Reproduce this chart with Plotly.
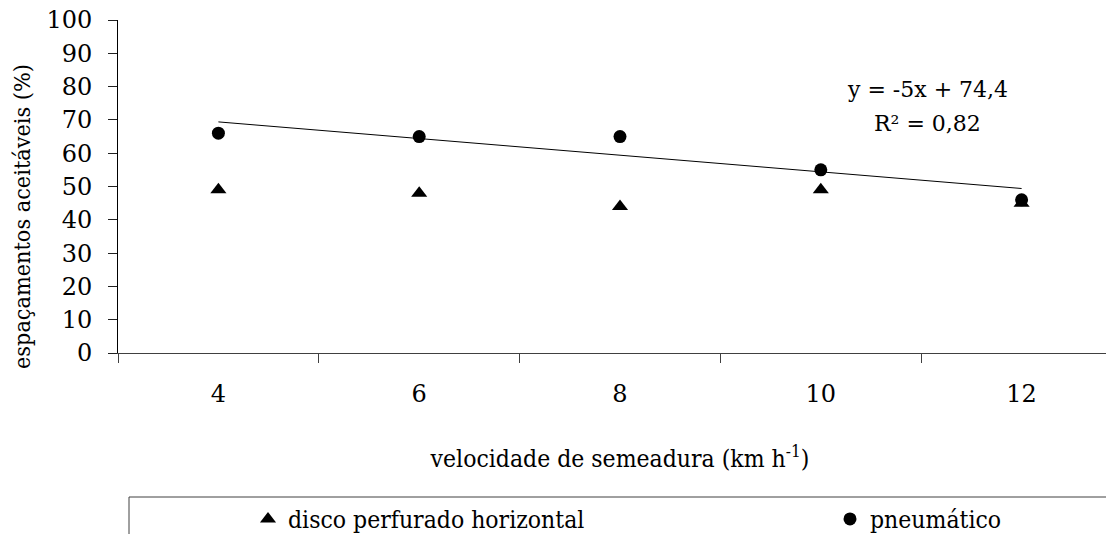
import numpy as np
import plotly.graph_objects as go

categorias = ["4", "6", "8", "10", "12"]
disco_perfurado = [49, 48, 44, 49, 45]
pneumatico = [66, 65, 65, 55, 46]
y_ticks = list(range(0, 101, 10))

SERIF = "DejaVu Serif"
COND = "DejaVu Serif Condensed"

# linear trend for pneumático (x = 1..5, as in the spreadsheet)
xi = np.arange(1, len(pneumatico) + 1)
a, b = np.polyfit(xi, pneumatico, 1)
trend = a * xi + b
yp = np.array(pneumatico, dtype=float)
r2 = 1 - np.sum((yp - trend) ** 2) / np.sum((yp - yp.mean()) ** 2)

fig = go.Figure()
fig.add_trace(go.Scatter(
    x=categorias, y=disco_perfurado, mode="markers", name="disco perfurado horizontal",
    marker=dict(symbol="triangle-up", size=14, color="black"), legend="legend",
))
fig.add_trace(go.Scatter(
    x=categorias, y=pneumatico, mode="markers", name="pneumático",
    marker=dict(symbol="circle", size=13, color="black"), legend="legend2",
))
fig.add_trace(go.Scatter(
    x=categorias, y=trend, mode="lines", showlegend=False, hoverinfo="skip",
    line=dict(color="black", width=1),
))

W, H = 1114, 534
L, T, B = 110, 12, 189
plot_w = W - L
plot_h = H - T - B


def px_x(p):
    return (p - L) / plot_w


def px_y(p):
    return (H - B - p) / plot_h


leg_common = dict(
    orientation="h", xanchor="left", yanchor="middle",
    font=dict(family=COND, size=24.5, color="black"),
    bgcolor="rgba(0,0,0,0)", borderwidth=0,
)

fig.update_layout(
    width=W, height=H,
    margin=dict(l=L, r=0, t=T, b=B, autoexpand=False),
    paper_bgcolor="white", plot_bgcolor="white",
    font=dict(family=SERIF, size=24, color="black"),
    showlegend=True,
    legend=dict(x=px_x(240), y=px_y(511), **leg_common),
    legend2=dict(x=px_x(822), y=px_y(511), **leg_common),
    xaxis=dict(
        type="category", range=[-0.5, 4.5],
        tickson="boundaries", ticks="outside", ticklen=9, tickcolor="#404040",
        showline=True, linecolor="#404040", linewidth=1,
        showgrid=False, zeroline=False,
        tickfont=dict(family=SERIF, size=24),
        ticklabelstandoff=19,
        title=dict(text="velocidade de semeadura (km h<sup>-1</sup>)",
                   font=dict(family=COND, size=24.5), standoff=43),
        automargin=False,
    ),
    yaxis=dict(
        range=[0, 100], tickmode="array", tickvals=y_ticks,
        ticks="outside", ticklen=9, tickcolor="#202020",
        showline=True, linecolor="black", linewidth=1,
        showgrid=False, zeroline=False,
        tickfont=dict(family=SERIF, size=24),
        ticklabelstandoff=11, ticklabeloverflow="allow",
        automargin=False,
    ),
    annotations=[
        dict(text="espaçamentos aceitáveis (%)", textangle=-90,
             x=px_x(13), y=px_y(209), xref="paper", yref="paper",
             xanchor="center", yanchor="middle",
             showarrow=False, font=dict(family=COND, size=23.2)),
        dict(text="y = %.0fx + %s" % (a, ("%.1f" % b).replace(".", ",")),
             x=px_x(919), y=px_y(81), xref="paper", yref="paper",
             xanchor="center", yanchor="middle",
             showarrow=False, font=dict(family=SERIF, size=22)),
        dict(text="R² = %s" % ("%.2f" % r2).replace(".", ","),
             x=px_x(919), y=px_y(115), xref="paper", yref="paper",
             xanchor="center", yanchor="middle",
             showarrow=False, font=dict(family=SERIF, size=22)),
    ],
    shapes=[
        dict(type="rect", xref="paper", yref="paper",
             x0=px_x(121), x1=px_x(1130), y0=px_y(489), y1=px_y(560),
             line=dict(color="#404040", width=1), fillcolor="rgba(0,0,0,0)"),
    ],
)

fig.write_html("out.html")
